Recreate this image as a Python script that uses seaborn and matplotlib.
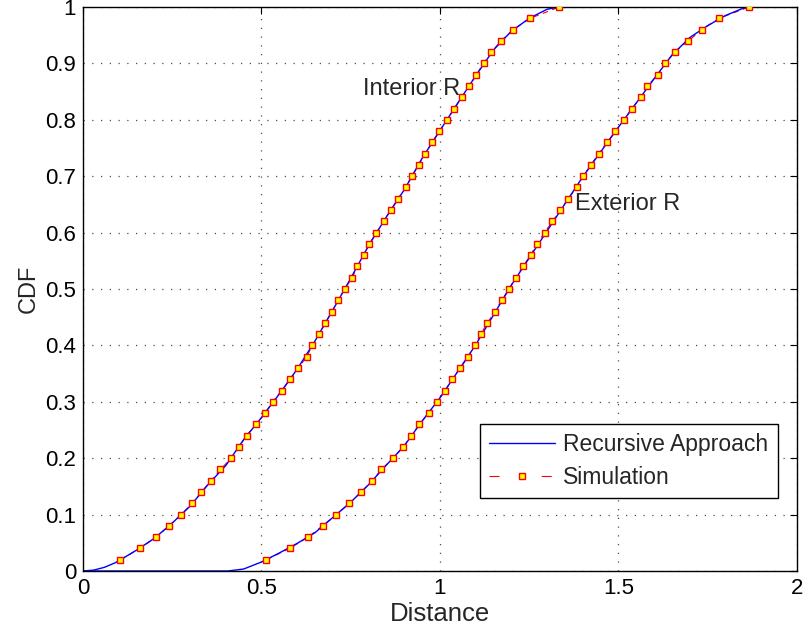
import matplotlib
matplotlib.use("Agg")
import matplotlib.pyplot as plt
from matplotlib.lines import Line2D
import seaborn as sns
import pandas as pd

# ---- data ----
cdf_levels = [0.02, 0.04, 0.06, 0.08, 0.10, 0.12, 0.14, 0.16, 0.18, 0.20,
              0.22, 0.24, 0.26, 0.28, 0.30, 0.32, 0.34, 0.36, 0.38, 0.40,
              0.42, 0.44, 0.46, 0.48, 0.50, 0.52, 0.54, 0.56, 0.58, 0.60,
              0.62, 0.64, 0.66, 0.68, 0.70, 0.72, 0.74, 0.76, 0.78, 0.80,
              0.82, 0.84, 0.86, 0.88, 0.90, 0.92, 0.94, 0.96, 0.98, 1.00]

sim_interior_x = [0.105, 0.159, 0.205, 0.241, 0.275, 0.306, 0.331, 0.359, 0.385, 0.415,
                  0.437, 0.458, 0.485, 0.510, 0.531, 0.557, 0.581, 0.603, 0.627, 0.642,
                  0.662, 0.679, 0.697, 0.715, 0.733, 0.754, 0.768, 0.787, 0.802, 0.822,
                  0.842, 0.862, 0.882, 0.904, 0.921, 0.941, 0.958, 0.978, 0.998, 1.020,
                  1.040, 1.062, 1.082, 1.102, 1.122, 1.144, 1.171, 1.205, 1.253, 1.334]

sim_exterior_x = [0.514, 0.579, 0.630, 0.671, 0.710, 0.746, 0.779, 0.810, 0.836, 0.869,
                  0.897, 0.920, 0.942, 0.969, 0.991, 1.015, 1.034, 1.057, 1.079, 1.097,
                  1.114, 1.133, 1.153, 1.173, 1.193, 1.213, 1.232, 1.254, 1.271, 1.293,
                  1.315, 1.337, 1.359, 1.383, 1.401, 1.423, 1.444, 1.468, 1.491, 1.516,
                  1.538, 1.562, 1.581, 1.610, 1.631, 1.657, 1.696, 1.734, 1.782, 1.866]

rec_interior_x = [0.0, 0.03, 0.06, 0.09, 0.12, 0.15, 0.20, 0.25, 0.30, 0.35, 0.40, 0.45,
                  0.50, 0.55, 0.60, 0.65, 0.70, 0.75, 0.80, 0.85, 0.90, 0.95, 1.00,
                  1.05, 1.10, 1.15, 1.20, 1.25, 1.30, 1.334]
rec_interior_y = [0.0, 0.0016, 0.0065, 0.0145, 0.0256, 0.037, 0.058, 0.085, 0.115, 0.153,
                  0.187, 0.233, 0.272, 0.314, 0.358, 0.408, 0.463, 0.519, 0.577, 0.628,
                  0.676, 0.732, 0.781, 0.830, 0.878, 0.924, 0.957, 0.980, 0.996, 1.0]

rec_exterior_x = [0.0, 0.406, 0.45, 0.50, 0.55, 0.60, 0.65, 0.70, 0.75, 0.80, 0.85,
                  0.90, 0.95, 1.00, 1.10, 1.20, 1.30, 1.40, 1.50, 1.60, 1.65, 1.70,
                  1.75, 1.80, 1.85, 1.866]
rec_exterior_y = [0.0, 0.0, 0.0035, 0.016, 0.032, 0.049, 0.068, 0.095, 0.122, 0.153, 0.188,
                  0.222, 0.266, 0.307, 0.401, 0.507, 0.603, 0.699, 0.787, 0.873, 0.915,
                  0.946, 0.967, 0.985, 0.998, 1.0]

x_ticks = [0, 0.5, 1, 1.5, 2]
x_tick_labels = ["0", "0.5", "1", "1.5", "2"]
y_ticks = [0, 0.1, 0.2, 0.3, 0.4, 0.5, 0.6, 0.7, 0.8, 0.9, 1.0]
y_tick_labels = ["0", "0.1", "0.2", "0.3", "0.4", "0.5", "0.6", "0.7", "0.8", "0.9", "1"]

# ---- style ----
sns.set_style("white")
plt.rcParams["font.family"] = ["Liberation Sans", "DejaVu Sans"]

fig = plt.figure(figsize=(8.04, 6.31), dpi=100)
ax = fig.add_axes([83 / 804, 60 / 631, 714 / 804, 564 / 631])

sim_i = pd.DataFrame({"x": sim_interior_x, "y": cdf_levels})
sim_e = pd.DataFrame({"x": sim_exterior_x, "y": cdf_levels})
rec_i = pd.DataFrame({"x": rec_interior_x, "y": rec_interior_y})
rec_e = pd.DataFrame({"x": rec_exterior_x, "y": rec_exterior_y})

dash = (0, (5, 4))
for df in (sim_i, sim_e):
    sns.lineplot(data=df, x="x", y="y", ax=ax, color="red", linestyle=dash,
                 linewidth=0.8, zorder=2, sort=False)
for df in (rec_i, rec_e):
    sns.lineplot(data=df, x="x", y="y", ax=ax, color="blue", linewidth=1.0,
                 zorder=2.5, sort=False)
for df in (sim_i, sim_e):
    sns.lineplot(data=df, x="x", y="y", ax=ax, color="red", linestyle="none",
                 marker="s", markersize=4.2, markerfacecolor="yellow",
                 markeredgecolor="red", markeredgewidth=1.0, zorder=3, sort=False)

ax.set_xlim(0, 2)
ax.set_ylim(0, 1)
ax.set_xticks(x_ticks)
ax.set_xticklabels(x_tick_labels)
ax.set_yticks(y_ticks)
ax.set_yticklabels(y_tick_labels)
ax.tick_params(direction="in", length=5, width=0.8, top=True, right=True,
               labelsize=16, pad=5, colors="black")
ax.grid(True, linestyle=(0, (1, 6)), color="0.3", linewidth=0.9)
for s in ax.spines.values():
    s.set_visible(True)
    s.set_color("black")
    s.set_linewidth(1.0)

ax.set_xlabel("Distance", fontsize=18.5, labelpad=2)
ax.set_ylabel("CDF", fontsize=17, labelpad=4)

ax.text(0.784, 0.855, "Interior R", fontsize=17, ha="left", va="center")
ax.text(1.378, 0.651, "Exterior R", fontsize=17, ha="left", va="center")

handles = [
    Line2D([], [], color="blue", linewidth=1.0),
    Line2D([], [], color="red", linestyle=(0, (9, 38)), linewidth=0.8, marker="s",
           markersize=4.2, markerfacecolor="yellow", markeredgecolor="red",
           markeredgewidth=1.0),
]
leg = ax.legend(handles, ["Recursive Approach", "Simulation"], loc="lower right",
                bbox_to_anchor=(0.973, 0.129), borderaxespad=0, fontsize=16.5,
                handlelength=2.9, frameon=True, fancybox=False, framealpha=1,
                edgecolor="black", borderpad=0.4, labelspacing=0.45,
                handletextpad=0.35)
leg.get_frame().set_linewidth(1.0)

fig.savefig("out.png", dpi=100)
